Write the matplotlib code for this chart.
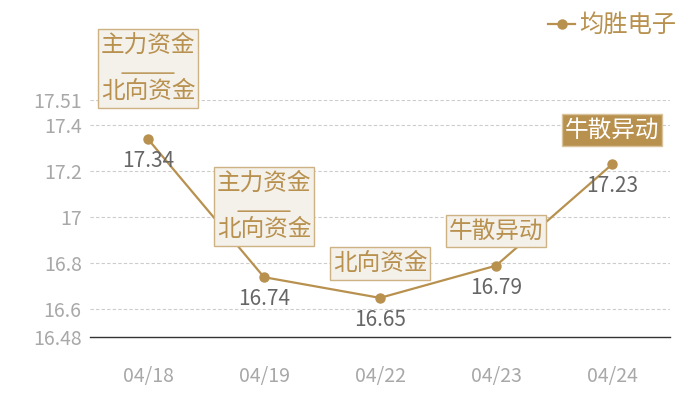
import matplotlib
matplotlib.use('Agg')
import matplotlib.pyplot as plt
from matplotlib.path import Path
from matplotlib.transforms import offset_copy

plt.rcParams['font.family'] = ['Noto Sans CJK SC', 'DejaVu Sans']

dates = ['04/18', '04/19', '04/22', '04/23', '04/24']
prices = [17.34, 16.74, 16.65, 16.79, 17.23]
tags = ['主力资金\n\n北向资金', '主力资金\n\n北向资金', '北向资金', '牛散异动', '牛散异动']
highlight = [False, False, False, False, True]
yticks = [16.48, 16.6, 16.8, 17, 17.2, 17.4, 17.51]
ytick_labels = ['16.48', '16.6', '16.8', '17', '17.2', '17.4', '17.51']
stock = '均胜电子'

gold = '#b8914f'
grey = '#a8a8a8'


def tag_box(x0, y0, width, height, mutation_size):
    # narrow sides, taller top/bottom padding
    px = 0.12 * mutation_size
    py = 0.2 * mutation_size
    x1, y1 = x0 + width + px, y0 + height + py
    x0, y0 = x0 - px, y0 - py
    return Path([(x0, y0), (x1, y0), (x1, y1), (x0, y1), (x0, y0)], closed=True)


fig = plt.figure(figsize=(7, 4), dpi=100)
ax = fig.add_axes([90/700, 63/400, 580/700, 237/400])

x = list(range(len(dates)))
ax.plot(x, prices, color=gold, lw=1.6, marker='o', ms=6.5, label=stock, zorder=3)

ax.set_xlim(-0.5, len(dates) - 0.5)
ax.set_ylim(yticks[0], yticks[-1])
ax.set_xticks(x)
ax.set_xticklabels(dates)
ax.set_yticks(yticks)
ax.set_yticklabels(ytick_labels)
ax.tick_params(axis='both', length=0, labelsize=14, labelcolor=grey)
ax.tick_params(axis='x', pad=21)
ax.tick_params(axis='y', pad=6)

for s in ['top', 'right', 'left']:
    ax.spines[s].set_visible(False)
ax.spines['bottom'].set_color('#333333')
ax.spines['bottom'].set_linewidth(1)

for t in yticks[1:]:
    ax.axhline(t, color='#cccccc', lw=0.8, ls=(0, (3, 2)), zorder=1)

for i, (p, tag) in enumerate(zip(prices, tags)):
    ax.annotate(f'{p:.2f}', (i, p), xytext=(0, -11), textcoords='offset pixels',
                ha='center', va='top', fontsize=15, color='#666666', zorder=4)
    multi = '\n' in tag
    if highlight[i]:
        box = dict(boxstyle=tag_box, fc=gold, ec='#d9c39c', lw=1)
        tc = 'white'
    else:
        box = dict(boxstyle=tag_box, fc='#f4f0ea', ec='#cdb283', lw=1)
        tc = gold
    ax.annotate(tag, (i, p), xytext=(0, 36 if multi else 23), textcoords='offset pixels',
                ha='center', va='bottom', fontsize=17, color=tc, bbox=box,
                linespacing=1.0, annotation_clip=False, zorder=5)
    if multi:
        # rule between the two lines of a stacked tag
        left = offset_copy(ax.transData, fig=fig, x=-26, y=66, units='dots')
        right = offset_copy(ax.transData, fig=fig, x=26, y=66, units='dots')
        ax.annotate('', xy=(i, p), xycoords=right, xytext=(i, p), textcoords=left,
                    arrowprops=dict(arrowstyle='-', color=gold, lw=1.1,
                                    shrinkA=0, shrinkB=0),
                    annotation_clip=False, zorder=6)

ax.legend(loc='upper right', bbox_to_anchor=(688/700, 1.0), bbox_transform=fig.transFigure,
          frameon=False, fontsize=17.5, labelcolor=gold, handlelength=1.1,
          handletextpad=0.15, borderaxespad=0.1)

fig.savefig('out.png', dpi=100)
